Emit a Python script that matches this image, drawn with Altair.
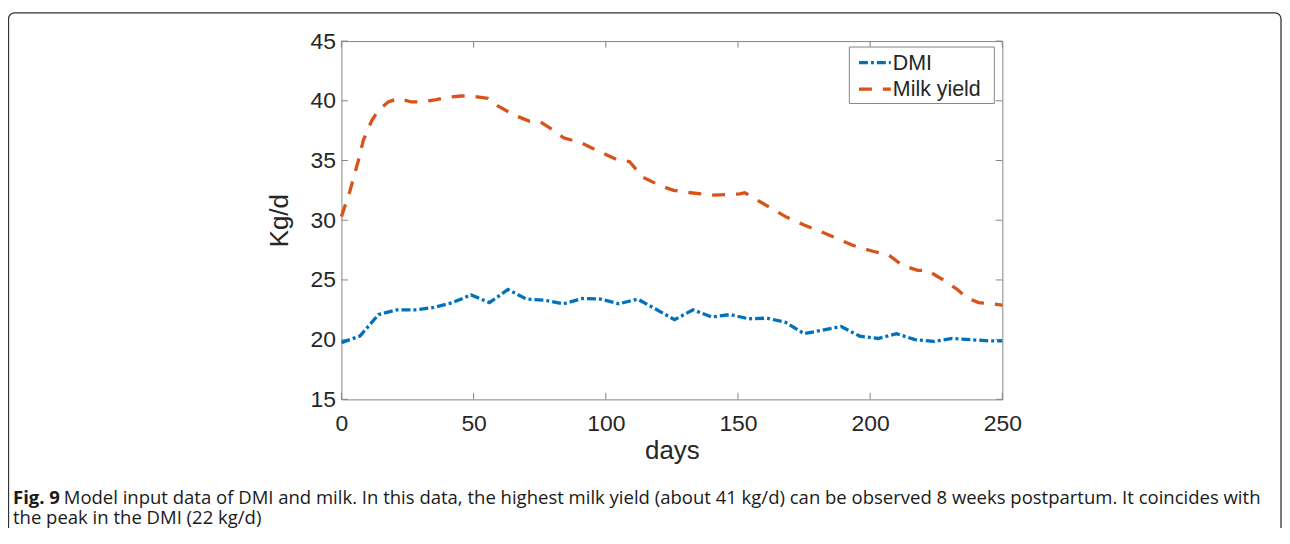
import altair as alt
import pandas as pd

# ---------------- data ----------------
milk_days = [0, 3.3, 6.4, 8.3, 11.4, 13.9, 17.7, 21.5, 26.5, 30, 35.9, 40, 45.3, 49, 55.3, 59,
             65.4, 71, 74.8, 80.5, 84, 90.5, 98, 104, 109, 114, 120.6, 125.6, 132, 141, 150.7,
             152.6, 159.5, 168, 175, 184.6, 193.4, 201, 207, 212, 218, 221.6, 227.3, 233,
             236.7, 241, 246.7, 250]
milk_vals = [30.3, 32.5, 35.0, 36.7, 38.3, 39.2, 39.9, 40.2, 39.9, 39.9, 40.1, 40.3, 40.4, 40.4,
             40.2, 39.6, 38.8, 38.3, 38.3, 37.5, 36.9, 36.5, 35.7, 35.1, 34.9, 33.6, 32.9, 32.5,
             32.3, 32.1, 32.2, 32.3, 31.4, 30.3, 29.6, 28.75, 27.9, 27.4, 27.1, 26.25, 25.8,
             25.8, 25.05, 24.2, 23.5, 23.1, 23.0, 22.9]

dmi_days = [0, 7, 14, 21, 28, 35, 42, 49, 56, 63, 70, 77, 84, 91, 98, 105, 112, 119, 126, 133,
            140, 147, 154, 161, 168, 175, 182, 189, 196, 203, 210, 217, 224, 231, 238, 245, 250]
dmi_vals = [19.75, 20.3, 22.1, 22.5, 22.5, 22.7, 23.1, 23.75, 23.1, 24.2, 23.4, 23.3, 23.0, 23.45,
            23.4, 23.0, 23.4, 22.55, 21.67, 22.5, 21.9, 22.1, 21.75, 21.8, 21.45, 20.5, 20.8,
            21.1, 20.3, 20.1, 20.5, 20.0, 19.85, 20.1, 20.0, 19.9, 19.9]

x_ticks = [0, 50, 100, 150, 200, 250]
y_ticks = [15, 20, 25, 30, 35, 40, 45]
series_names = ["DMI", "Milk yield"]
series_colors = ["#0072BD", "#D95319"]
series_dashes = [[9, 3, 3, 3], [13, 11]]
x_title = "days"
y_title = "Kg/d"
caption_bold = ["Fig. 9"]
caption_line1 = ["Model input data of DMI and milk. In this data, the highest milk yield (about 41 kg/d) "
                 "can be observed 8 weeks postpartum. It coincides with"]
caption_line2 = ["the peak in the DMI (22 kg/d)"]

# ---------------- layout ----------------
W, H = 664, 360
PAD_L, PAD_T = 335, 32
TOTAL_W, TOTAL_H = 1280, 520
AX_COL = "#858585"
TXT_COL = "#262626"
FONT = "Liberation Sans"
CAP_FONT = "Open Sans"
CAP_SIZE = 18.6
TICK = 6.6

df = pd.DataFrame({
    "day": dmi_days + milk_days,
    "value": dmi_vals + milk_vals,
    "series": [series_names[0]] * len(dmi_days) + [series_names[1]] * len(milk_days),
})

xscale = alt.Scale(domain=[0, 250], nice=False, zero=False)
yscale = alt.Scale(domain=[15, 45], nice=False, zero=False)

lines = alt.Chart(df).mark_line(strokeWidth=3.3).encode(
    x=alt.X("day:Q", scale=xscale,
            axis=alt.Axis(values=x_ticks, title=x_title, labelPadding=13,
                          titleX=W / 2, titleY=59, titleBaseline="alphabetic")),
    y=alt.Y("value:Q", scale=yscale,
            axis=alt.Axis(values=y_ticks, title=y_title, labelPadding=6,
                          titleX=-54, titleY=H / 2, titleAngle=270,
                          titleBaseline="alphabetic")),
    color=alt.Color("series:N", scale=alt.Scale(domain=series_names, range=series_colors),
                    legend=None),
    strokeDash=alt.StrokeDash("series:N",
                              scale=alt.Scale(domain=series_names, range=series_dashes),
                              legend=None),
)

xt = pd.DataFrame({"t": x_ticks})
yt = pd.DataFrame({"t": y_ticks})
xt_bottom = alt.Chart(xt).mark_rule(color=AX_COL, strokeWidth=1).encode(
    x=alt.X("t:Q", scale=xscale), y=alt.value(H), y2=alt.value(H - TICK))
xt_top = alt.Chart(xt).mark_rule(color=AX_COL, strokeWidth=1).encode(
    x=alt.X("t:Q", scale=xscale), y=alt.value(0), y2=alt.value(TICK))
yt_left = alt.Chart(yt).mark_rule(color=AX_COL, strokeWidth=1).encode(
    y=alt.Y("t:Q", scale=yscale), x=alt.value(0), x2=alt.value(TICK))
yt_right = alt.Chart(yt).mark_rule(color=AX_COL, strokeWidth=1).encode(
    y=alt.Y("t:Q", scale=yscale), x=alt.value(W), x2=alt.value(W - TICK))

# ---------------- legend ----------------
one = pd.DataFrame({"a": [0]})
leg_box = alt.Chart(one).mark_rect(fill="white", stroke=AX_COL, strokeWidth=1).encode(
    x=alt.value(510.3), x2=alt.value(656), y=alt.value(6), y2=alt.value(62.7))
leg_layers = [leg_box]
leg_line_y = [21.7, 48.3]
leg_text_y = [29, 55]
for i, name in enumerate(series_names):
    ldf = pd.DataFrame({"name": [name]})
    leg_layers.append(
        alt.Chart(ldf).mark_rule(color=series_colors[i], strokeWidth=3.3,
                                 strokeDash=series_dashes[i]).encode(
            x=alt.value(520), x2=alt.value(552), y=alt.value(leg_line_y[i]))
    )
    leg_layers.append(
        alt.Chart(ldf).mark_text(align="left", baseline="alphabetic", font=FONT,
                                 fontSize=21.5, color=TXT_COL).encode(
            text="name:N", x=alt.value(554), y=alt.value(leg_text_y[i]))
    )

# ---------------- caption & frame ----------------
frame = alt.Chart(one).mark_rect(fillOpacity=0, stroke="#333333", strokeWidth=1.3,
                                 cornerRadius=6).encode(
    x=alt.value(8.5 - 343), x2=alt.value(1287 - 343),
    y=alt.value(11.7 - 40), y2=alt.value(640))
cap_b = alt.Chart(pd.DataFrame({"t": caption_bold})).mark_text(
    align="left", baseline="alphabetic", font=CAP_FONT, fontSize=CAP_SIZE, fontWeight="bold",
    color="#1a1a1a").encode(text="t:N", x=alt.value(13 - 343), y=alt.value(505 - 40))
cap_1 = alt.Chart(pd.DataFrame({"t": caption_line1})).mark_text(
    align="left", baseline="alphabetic", font=CAP_FONT, fontSize=CAP_SIZE,
    color="#1a1a1a").encode(text="t:N", x=alt.value(64 - 343), y=alt.value(505 - 40))
cap_2 = alt.Chart(pd.DataFrame({"t": caption_line2})).mark_text(
    align="left", baseline="alphabetic", font=CAP_FONT, fontSize=CAP_SIZE,
    color="#1a1a1a").encode(text="t:N", x=alt.value(13 - 343), y=alt.value(525 - 40))

chart = alt.layer(
    frame, xt_bottom, xt_top, yt_left, yt_right, lines, *leg_layers, cap_b, cap_1, cap_2
).properties(
    width=W, height=H,
    background="white",
    autosize=alt.AutoSizeParams(type="none"),
    padding={"left": PAD_L, "top": PAD_T, "right": TOTAL_W - PAD_L - W,
             "bottom": TOTAL_H - PAD_T - H},
).configure_view(
    stroke=AX_COL, strokeWidth=1
).configure_axis(
    ticks=False, tickSize=0, domain=False, grid=False, labelFlush=False,
    labelFont=FONT, labelFontSize=23, labelColor=TXT_COL,
    titleFont=FONT, titleFontSize=26, titleFontWeight="normal", titleColor=TXT_COL,
)

chart.save("out.html", embed_options={"renderer": "svg", "actions": False})
